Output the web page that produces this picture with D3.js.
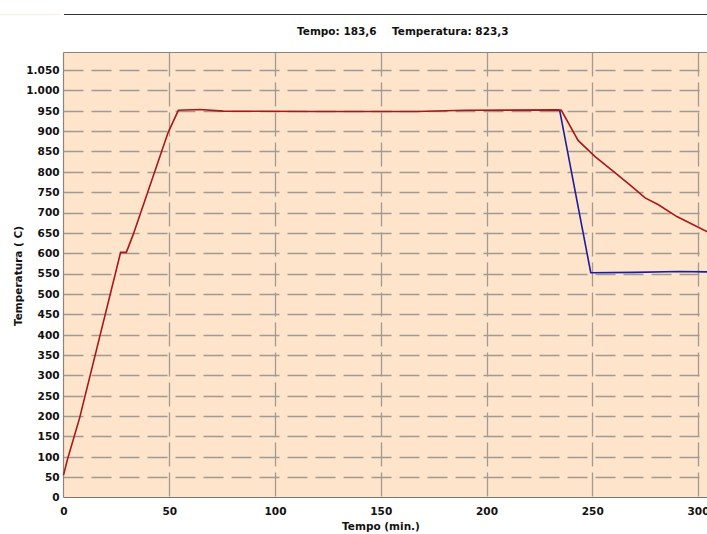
<!DOCTYPE html>
<html>
<head>
<meta charset="utf-8">
<script src="https://cdn.jsdelivr.net/npm/d3@7"></script>
<style>
  html, body { margin: 0; padding: 0; background: #fff; }
  svg text { font-family: "DejaVu Sans", Verdana, sans-serif; font-weight: bold; fill: #111; }
</style>
</head>
<body>
<script>
"use strict"

// forno (vermelho) e peça (azul)
const tempoForno = [0, 2, 7.6, 27, 29.7, 32.9, 49.5, 54.3, 64.5, 75.5, 120, 167, 190, 234, 235.4, 243.3, 251.2, 259.1, 267.8, 275, 281.3, 290, 305]
const tempForno = [55, 96, 195, 602, 602, 645, 897, 951, 953, 949, 948, 948, 951, 952, 951, 877, 838, 805, 768, 736, 719, 690, 651]
const tempoPeca = [234.6, 249.3, 270, 290.8, 305]
const tempPeca = [951, 552, 553, 555, 554]

const xTicks = [0, 50, 100, 150, 200, 250, 300]
const yTicks = d3.range(0, 1051, 50)
const cursorTempo = 183.6
const cursorTemp = 823.3

const W = 707, H = 534
const pt = d3.formatLocale({ decimal: ',', thousands: '.', grouping: [3], currency: ['R$', ''] })
const fmtY = pt.format(',')
const fmtC = pt.format(',.1f')

const x = d3.scaleLinear([0, 310], [63.5, 63.5 + 310 * 2.115])
const y = d3.scaleLinear([0, 1093], [497.5, 52.5])

const svg = d3.select('body').append('svg')
   .attr('width', W)
   .attr('height', H)

// resto da barra de cima
svg.append('line')
   .attr('x1', 64).attr('x2', W).attr('y1', 14.5).attr('y2', 14.5)
   .attr('stroke', '#333').attr('stroke-width', 1)
svg.append('line')
   .attr('x1', 0).attr('x2', 60).attr('y1', 14.5).attr('y2', 14.5)
   .attr('stroke', '#fbefe2').attr('stroke-width', 1)

svg.append('text')
   .attr('x', 297).attr('y', 35)
   .style('font-size', '10.5px')
   .text(`Tempo: ${fmtC(cursorTempo)}`)
svg.append('text')
   .attr('x', 392).attr('y', 35)
   .style('font-size', '10.5px')
   .text(`Temperatura: ${fmtC(cursorTemp)}`)

// fundo
svg.append('rect')
   .attr('x', x(0)).attr('y', y.range()[1])
   .attr('width', W - x(0) + 20).attr('height', y(0) - y.range()[1])
   .attr('fill', '#fee4ca')

const grid = svg.append('g')
grid.selectAll('.hg')
   .data(yTicks.slice(1))
   .enter()
   .append('line')
      .attr('x1', x(0)).attr('x2', W + 10)
      .attr('y1', d => Math.round(y(d)) + 0.5).attr('y2', d => Math.round(y(d)) + 0.5)
      .attr('stroke', '#a09a94').attr('stroke-width', 1.3)
      .attr('stroke-dasharray', '20,8')
grid.selectAll('.vg')
   .data(xTicks.slice(1))
   .enter()
   .append('line')
      .attr('x1', d => Math.round(x(d)) + 0.5).attr('x2', d => Math.round(x(d)) + 0.5)
      .attr('y1', y.range()[1]).attr('y2', y(0))
      .attr('stroke', '#a09a94').attr('stroke-width', 1.3)
      .attr('stroke-dasharray', '24,6')

// bordas
svg.append('line')
   .attr('x1', x(0)).attr('x2', W).attr('y1', y.range()[1]).attr('y2', y.range()[1])
   .attr('stroke', '#8a8580').attr('stroke-width', 1.2)
svg.append('line')
   .attr('x1', x(0)).attr('x2', x(0)).attr('y1', y.range()[1]).attr('y2', y(0))
   .attr('stroke', '#8a8580').attr('stroke-width', 1.2)
svg.append('line')
   .attr('x1', x(0)).attr('x2', W).attr('y1', y(0)).attr('y2', y(0))
   .attr('stroke', '#7a7570').attr('stroke-width', 1.2)

const yAxis = d3.axisLeft(y).tickValues(yTicks).tickFormat(fmtY).tickSize(0).tickPadding(4)
svg.append('g')
   .attr('transform', `translate(${x(0)}, 0)`)
   .call(yAxis)
   .call(g => g.select('.domain').remove())
   .selectAll('text').style('font-size', '10.5px').style('font-family', null)

const xAxis = d3.axisBottom(x).tickValues(xTicks).tickSize(0).tickPadding(10)
svg.append('g')
   .attr('transform', `translate(0, ${y(0)})`)
   .call(xAxis)
   .call(g => g.select('.domain').remove())
   .selectAll('text').style('font-size', '10.5px').style('font-family', null)

svg.append('text')
   .attr('x', 381).attr('y', 530)
   .attr('text-anchor', 'middle')
   .style('font-size', '10.5px')
   .text('Tempo (min.)')
svg.append('text')
   .attr('transform', 'translate(22, 276) rotate(-90)')
   .attr('text-anchor', 'middle')
   .style('font-size', '10.5px')
   .text('Temperatura ( C)')

const line = d3.line().x(d => x(d[0])).y(d => y(d[1]))
svg.append('path')
   .datum(d3.zip(tempoPeca, tempPeca))
   .attr('fill', 'none').attr('stroke', '#1c1ca0').attr('stroke-width', 1.6)
   .attr('d', line)
svg.append('path')
   .datum(d3.zip(tempoForno, tempForno))
   .attr('fill', 'none').attr('stroke', '#a81818').attr('stroke-width', 1.6)
   .attr('d', line)
</script>
</body>
</html>
